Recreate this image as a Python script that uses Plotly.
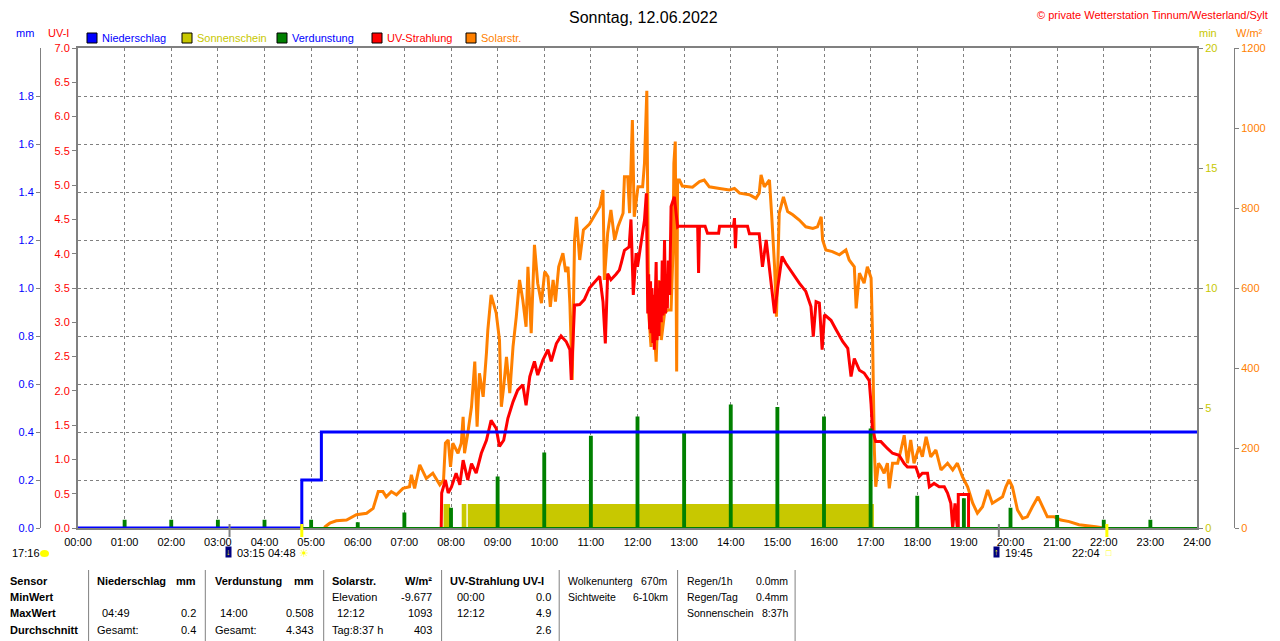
import plotly.graph_objects as go

# Seite hat 8px Rand im Browser -> Figur etwas kleiner, Koordinaten verschoben
OFF = 8
W, H = 1280 - OFF, 641 - OFF

# --- Daten -------------------------------------------------------------
hours = list(range(25))
hour_labels = [f"{h:02d}:00" for h in hours]

# Niederschlag (mm, Tagessumme)
rain_t = [0.0, 4.80, 5.22, 24.0]
rain_v = [0.0, 0.2, 0.4, 0.4]

# Sonnenschein (min pro Minute) - Intervalle mit Sonne
sun_start = [7.84, 8.23, 8.36]
sun_end = [7.98, 8.33, 17.07]
sun_value = 1.0

# Verdunstung (mm pro Stunde)
evap_t = list(range(1, 24))
evap_v = [0.03, 0.03, 0.03, 0.03, 0.03, 0.02, 0.06, 0.08, 0.21, 0.31, 0.38, 0.46,
          0.40, 0.51, 0.50, 0.46, 0.41, 0.13, 0.12, 0.08, 0.05, 0.03, 0.03]

# UV-Strahlung (UV-I)
uv_t = [7.79, 7.80, 7.88, 7.94, 8.01, 8.11, 8.19, 8.26, 8.36, 8.44, 8.54, 8.65, 8.76,
        8.86, 8.97, 9.04, 9.13, 9.22, 9.33, 9.43, 9.54, 9.61, 9.69, 9.79, 9.86, 9.97,
        10.08, 10.15, 10.26, 10.36, 10.47, 10.55, 10.58, 10.62, 10.65, 10.76, 10.86,
        10.97, 11.08, 11.19, 11.26, 11.31, 11.36, 11.43, 11.54, 11.61, 11.65, 11.72,
        11.82, 11.86, 11.91, 11.97, 12.00, 12.08, 12.15, 12.19, 12.22, 12.24, 12.26,
        12.28, 12.29, 12.31, 12.33, 12.35, 12.36, 12.38, 12.40, 12.42, 12.44, 12.46,
        12.48, 12.51, 12.53, 12.55, 12.58, 12.60, 12.62, 12.64, 12.66, 12.69,
        12.72, 12.79, 12.86, 12.88, 13.29, 13.31, 13.33, 13.45, 13.50, 13.74, 13.76,
        14.06, 14.08, 14.10, 14.12, 14.36, 14.40, 14.61, 14.68, 14.76, 14.86, 14.94,
        15.01, 15.10, 15.18, 15.33, 15.47, 15.61, 15.72, 15.77, 15.83, 15.90, 15.96,
        16.01, 16.15, 16.26, 16.40, 16.51, 16.58, 16.65, 16.76, 16.86, 16.97, 17.01,
        17.04, 17.11, 17.22, 17.36, 17.47, 17.61, 17.72, 17.79, 17.97, 18.04, 18.11,
        18.22, 18.26, 18.36, 18.47, 18.58, 18.65, 18.72, 18.76, 18.81, 18.86, 18.88,
        18.88, 19.10, 19.10]
uv_v = [0.0, 0.51, 0.70, 0.51, 0.60, 0.80, 0.63, 0.99, 0.70, 0.94, 0.80, 1.09, 1.28,
        1.57, 1.45, 1.19, 1.28, 1.60, 1.84, 2.01, 2.09, 1.79, 2.21, 2.43, 2.23, 2.45,
        2.60, 2.43, 2.69, 2.80, 2.72, 2.60, 2.16, 2.90, 3.25, 3.26, 3.33,
        3.50, 3.59, 3.67, 3.30, 2.69, 3.71, 3.62, 3.70, 3.76, 3.86, 4.05,
        4.10, 4.50, 3.40, 4.01, 3.81, 4.20, 4.49, 4.88, 3.13, 3.70, 2.90,
        3.60, 2.84, 3.50, 2.70, 3.40, 2.60, 3.30, 3.88, 2.74, 3.50, 2.80,
        3.60, 3.00, 3.90, 3.10, 4.20, 3.13, 3.70, 3.20, 3.90, 3.40,
        4.69, 4.83, 4.39, 4.40, 4.40, 3.72, 4.40, 4.40, 4.30, 4.30, 4.40,
        4.40, 4.52, 4.08, 4.40, 4.40, 4.29, 4.29, 3.81, 4.20, 3.62, 3.13,
        3.52, 3.96, 3.86, 3.71, 3.57, 3.45, 3.23, 2.79, 3.30, 3.28, 2.60,
        3.11, 3.03, 2.89, 2.72, 2.62, 2.21, 2.47, 2.30, 2.26, 2.15, 1.80,
        1.43, 1.26, 1.26, 1.16, 1.09, 1.06, 0.94, 0.89, 0.89, 0.75, 0.80,
        0.80, 0.60, 0.65, 0.60, 0.60, 0.51, 0.36, 0.0, 0.36, 0.0, 0.0,
        0.49, 0.49, 0.0]

# Solarstrahlung (W/m²)
sol_t = [5.29, 5.30, 5.40, 5.54, 5.76, 5.97, 6.19, 6.33, 6.44, 6.54, 6.61, 6.72, 6.83,
         6.97, 7.11, 7.15, 7.22, 7.33, 7.47, 7.61, 7.76, 7.84, 7.88, 7.94, 7.99, 8.04,
         8.15, 8.22, 8.26, 8.29, 8.36, 8.44, 8.51, 8.56, 8.61, 8.69, 8.76, 8.79, 8.86,
         8.97, 9.04, 9.08, 9.13, 9.19, 9.26, 9.33, 9.40, 9.47, 9.54, 9.61, 9.65, 9.72,
         9.79, 9.86, 9.94, 10.01, 10.08, 10.13, 10.19, 10.24, 10.31, 10.40, 10.46,
         10.51, 10.55, 10.60, 10.65, 10.69, 10.76, 10.84, 10.97, 11.11, 11.19, 11.26,
         11.29, 11.36, 11.43, 11.51, 11.58, 11.69, 11.72, 11.79, 11.83, 11.89, 11.93,
         12.01, 12.11, 12.15, 12.20, 12.24, 12.29, 12.34, 12.40, 12.46, 12.51, 12.58,
         12.65, 12.72, 12.76, 12.78, 12.81, 12.84, 12.86, 12.90, 12.96, 13.18, 13.33,
         13.43, 13.54, 13.76, 13.97, 14.08, 14.19, 14.40, 14.54, 14.61, 14.65, 14.72,
         14.83, 14.88, 14.94, 14.98, 15.04, 15.13, 15.22, 15.33, 15.47, 15.61, 15.76,
         15.86, 15.94, 15.97, 16.04, 16.18, 16.33, 16.47, 16.54, 16.65, 16.69, 16.76,
         16.86, 16.93, 17.01, 17.04, 17.06, 17.08, 17.11, 17.17, 17.22, 17.29, 17.36,
         17.40, 17.47, 17.58, 17.65, 17.72, 17.79, 17.86, 17.93, 18.04, 18.11, 18.19,
         18.29, 18.40, 18.51, 18.65, 18.76, 18.86, 18.97, 19.08, 19.19, 19.29, 19.40,
         19.51, 19.61, 19.72, 19.83, 19.90, 19.97, 20.04, 20.15, 20.26, 20.36, 20.47,
         20.59, 20.69, 20.79, 20.94, 21.08, 21.26, 21.47, 21.83, 22.00]
sol_v = [0, 3, 12, 18, 20, 33, 37, 49, 91, 91, 78, 91, 83,
         99, 103, 133, 99, 158, 124, 137, 108, 120, 212, 220, 153, 212,
         187, 212, 278, 187, 237, 303, 416, 253, 387, 328, 437, 495, 583,
         537, 470, 303, 353, 428, 337, 453, 528, 620, 570, 503, 653, 487,
         708, 612, 562, 641, 628, 553, 620, 566, 653, 687, 640,
         653, 560, 370, 720, 778, 670, 745, 760, 787, 803, 845,
         620, 737, 795, 720, 753, 787, 878, 878, 787, 1020, 778,
         853, 853, 912, 1093, 537, 453, 537, 416, 620, 470, 537,
         545, 545, 687, 912, 966, 391, 870, 870, 855, 852, 866,
         870, 853, 849, 845, 849, 837, 833, 824, 837, 883, 853,
         870, 778, 653, 528, 787, 828, 791, 783, 770, 753, 749,
         753, 778, 720, 695, 691, 683, 695, 670, 653, 549, 637,
         612, 653, 625, 487, 328, 195, 103, 162, 153, 137, 162,
         99, 162, 162, 195, 232, 162, 220, 162, 203, 178, 228,
         178, 195, 145, 162, 145, 162, 128, 103, 62, 37, 53,
         95, 62, 70, 78, 103, 120, 103, 45, 24, 28, 53,
         78, 53, 28, 28, 20, 16, 8, 3, 0]

# Sonnen- und Mondzeiten (Stunden)
sun_rise, sun_set = 4.80, 22.067
moon_set, moon_rise = 3.25, 19.75

# Tabelle
table_head = ["Sensor", "Niederschlag", "mm", "Verdunstung", "mm", "Solarstr.", "W/m²",
              "UV-Strahlung UV-I"]
row_labels = ["MinWert", "MaxWert", "Durchschnitt"]
rain_rows = [("", ""), ("04:49", "0.2"), ("Gesamt:", "0.4")]
evap_rows = [("", ""), ("14:00", "0.508"), ("Gesamt:", "4.343")]
sol_rows = [("Elevation", "-9.677"), ("12:12", "1093"), ("Tag:8:37 h", "403")]
uv_rows = [("00:00", "0.0"), ("12:12", "4.9"), ("", "2.6")]
cloud_rows = [("Wolkenunterg", "670m"), ("Sichtweite", "6-10km")]
rain_info = [("Regen/1h", "0.0mm"), ("Regen/Tag", "0.4mm"), ("Sonnenschein", "8:37h")]

# Farben
BLUE, OLIVE, GREEN, RED, ORANGE = "#0000FF", "#C8C800", "#008000", "#FF0000", "#FF8000"
GRAY = "#808080"
FONT = "Liberation Sans, Arial, sans-serif"


def px(x):
    return (x - OFF) / W


def py(y):
    return 1 - (y - OFF) / H


# Sonnenschein als Stufenfläche
sun_x, sun_y = [0.0], [0.0]
for a, b in zip(sun_start, sun_end):
    sun_x += [a, b]
    sun_y += [sun_value, 0.0]
sun_x.append(24.0)
sun_y.append(0.0)

# Verdunstung als schmale Spitzen auf der Nulllinie
d = 0.02
evap_x, evap_y = [0.0], [0.0]
for h, v in zip(evap_t, evap_v):
    evap_x += [h - d, h - d, h + d, h + d]
    evap_y += [0.0, v, v, 0.0]
evap_x.append(24.0)
evap_y.append(0.0)

fig = go.Figure()

fig.add_trace(go.Scatter(x=sun_x, y=sun_y, yaxis="y", mode="lines", line_shape="hv",
                         line=dict(width=0, color=OLIVE), fill="tozeroy",
                         fillcolor=OLIVE, name="Sonnenschein"))
fig.add_trace(go.Scatter(x=sol_t, y=sol_v, yaxis="y2", mode="lines",
                         line=dict(color=ORANGE, width=3), name="Solarstr."))
fig.add_trace(go.Scatter(x=uv_t, y=uv_v, yaxis="y3", mode="lines",
                         line=dict(color=RED, width=3), name="UV-Strahlung"))
fig.add_trace(go.Scatter(x=evap_x, y=evap_y, yaxis="y4", mode="lines",
                         line=dict(color=GREEN, width=2), fill="tozeroy",
                         fillcolor=GREEN, name="Verdunstung"))
fig.add_trace(go.Scatter(x=rain_t, y=rain_v, yaxis="y4", mode="lines", line_shape="hv",
                         line=dict(color=BLUE, width=3), name="Niederschlag"))

ydom = [py(528), py(48)]
tick_font = dict(family=FONT, size=11)

fig.update_layout(
    width=W, height=H,
    margin=dict(l=0, r=0, t=0, b=0, autoexpand=False),
    paper_bgcolor="white", plot_bgcolor="white",
    showlegend=False,
    font=dict(family=FONT, size=11, color="black"),
    xaxis=dict(domain=[px(78), px(1197)], range=[0, 24], tickvals=hours,
               ticktext=hour_labels, showgrid=True, gridcolor=GRAY, gridwidth=1,
               griddash="3px,3px", showline=True, linecolor=GRAY, linewidth=2,
               mirror=True, ticks="outside", ticklen=3, tickcolor="rgba(0,0,0,0)",
               tickfont=dict(tick_font, color="black"), zeroline=False,
               layer="below traces", fixedrange=True, automargin=False),
    yaxis=dict(domain=ydom, range=[0, 20], tickvals=[0, 5, 10, 15, 20], side="right",
               anchor="x", showgrid=False, zeroline=False, showline=True,
               linecolor=GRAY, linewidth=2, ticks="outside", ticklen=4,
               tickcolor=GRAY, tickfont=dict(tick_font, color=OLIVE),
               layer="below traces", automargin=False),
    yaxis2=dict(overlaying="y", range=[0, 1200], dtick=200, side="right",
                anchor="free", position=px(1234), showgrid=False, zeroline=False,
                showline=True, linecolor=GRAY, linewidth=1, ticks="outside",
                ticklen=4, tickcolor=GRAY, tickfont=dict(tick_font, color=ORANGE),
                automargin=False),
    yaxis3=dict(overlaying="y", range=[0, 7], dtick=0.5, tickformat=".1f", side="left",
                anchor="x", showgrid=False, zeroline=False, showline=True,
                linecolor=GRAY, linewidth=2, ticks="outside", ticklen=4,
                tickcolor=GRAY, tickfont=dict(tick_font, color=RED),
                layer="below traces", automargin=False),
    yaxis4=dict(overlaying="y", range=[0, 2.0],
                tickvals=[0, 0.2, 0.4, 0.6, 0.8, 1.0, 1.2, 1.4, 1.6, 1.8],
                tickformat=".1f", side="left", anchor="free", position=px(40),
                showgrid=True, gridcolor=GRAY, gridwidth=1, griddash="3px,3px",
                zeroline=False, showline=True, linecolor=GRAY, linewidth=1,
                ticks="outside", ticklen=4, tickcolor=GRAY,
                tickfont=dict(tick_font, color=BLUE), layer="below traces",
                automargin=False),
)

ann = []
shapes = []


def text(x, y, s, color="black", size=11, anchor="left", bold=False, xref="paper",
         xshift=0, **kw):
    if bold:
        s = f"<b>{s}</b>"
    ann.append(dict(x=x if xref != "paper" else px(x), y=py(y), xref=xref, yref="paper",
                    text=s, showarrow=False, xanchor=anchor, yanchor="middle",
                    xshift=xshift, font=dict(family=FONT, size=size, color=color), **kw))


# Titel und Kopfzeile
text(643, 17, "Sonntag, 12.06.2022", size=16, anchor="center")
text(1270, 15, "© private Wetterstation Tinnum/Westerland/Sylt", color=RED, anchor="right")
text(14, 33, "mm", color=BLUE)
text(46, 33, "UV-I", color=RED)
text(1197, 33, "min", color=OLIVE)
text(1234, 33, "W/m²", color=ORANGE)

legend = [("Niederschlag", BLUE, BLUE, 87), ("Sonnenschein", OLIVE, OLIVE, 182),
          ("Verdunstung", GREEN, BLUE, 277), ("UV-Strahlung", RED, RED, 372),
          ("Solarstr.", ORANGE, ORANGE, 466)]
for name, fill, tcol, x0 in legend:
    shapes.append(dict(type="rect", xref="paper", yref="paper", x0=px(x0), x1=px(x0 + 10),
                       y0=py(43), y1=py(33), fillcolor=fill,
                       line=dict(color="black", width=1)))
    text(x0 + 13, 38, name, color=tcol)

# Sonnen-/Mondmarken unter der Zeitachse
for t, col in [(moon_set, GRAY), (moon_rise, GRAY), (sun_rise, "#FFFF00"),
               (sun_set, "#FFFF00")]:
    shapes.append(dict(type="line", xref="x", yref="paper", x0=t, x1=t, y0=py(524),
                       y1=py(537), line=dict(color=col, width=2 if col == GRAY else 3)))

text(moon_set, 553, "03:15", anchor="left", xref="x", xshift=5)
text(moon_set, 552, "↓", color="#FFFF00", size=9, anchor="center", xref="x",
     bgcolor="#000080", borderpad=0, xshift=-1)
text(sun_rise, 553, "04:48", anchor="right", xref="x", xshift=-4)
text(sun_rise, 553, "☀", color="#FFFF00", size=11, anchor="center", xref="x", xshift=2)
text(moon_rise, 553, "19:45", anchor="left", xref="x", xshift=4)
text(moon_rise, 552, "↑", color="#FFFF00", size=9, anchor="center", xref="x",
     bgcolor="#000080", borderpad=0, xshift=-2)
text(sun_set, 553, "22:04", anchor="right", xref="x", xshift=-5)
text(sun_set, 553, "□", color="#FFFF00", size=9, anchor="center", xref="x", xshift=2)
text(10, 553, "17:16")
shapes.append(dict(type="circle", xref="paper", yref="paper", x0=px(40), x1=px(49),
                   y0=py(557), y1=py(550), fillcolor="#FFFF00", line=dict(width=0)))

# Tabelle
for xs in [88.6, 205.3, 323.7, 441.6, 559.2, 677.6, 795.1]:
    shapes.append(dict(type="line", xref="paper", yref="paper", x0=px(xs), x1=px(xs),
                       y0=py(570), y1=py(641), line=dict(color=GRAY, width=1)))

row_y = [581, 597, 613, 630]
text(8, row_y[0], table_head[0], bold=True)
text(95, row_y[0], table_head[1], bold=True)
text(198, row_y[0], table_head[2], bold=True, anchor="right")
text(213, row_y[0], table_head[3], bold=True)
text(316, row_y[0], table_head[4], bold=True, anchor="right")
text(330, row_y[0], table_head[5], bold=True)
text(434, row_y[0], table_head[6], bold=True, anchor="right")
text(448, row_y[0], table_head[7], bold=True)
for i, lab in enumerate(row_labels):
    y = row_y[i + 1]
    text(8, y, lab, bold=True)
    for (l, r), xl, xr in [(rain_rows[i], 95, 198), (evap_rows[i], 213, 316),
                           (sol_rows[i], 330, 434), (uv_rows[i], 450, 553)]:
        if l:
            text(xl + (5 if ":" in l and "Gesamt" not in l and "Tag" not in l else 0),
                 y, l)
        if r:
            text(xr, y, r, anchor="right")
for i, (l, r) in enumerate(cloud_rows):
    text(566, row_y[i], l, size=10.5)
    text(670, row_y[i], r, anchor="right", size=10.5)
for i, (l, r) in enumerate(rain_info):
    text(685, row_y[i], l, size=10.5)
    text(790, row_y[i], r, anchor="right", size=10.5)

fig.update_layout(annotations=ann, shapes=shapes)

fig.write_html("out.html")
